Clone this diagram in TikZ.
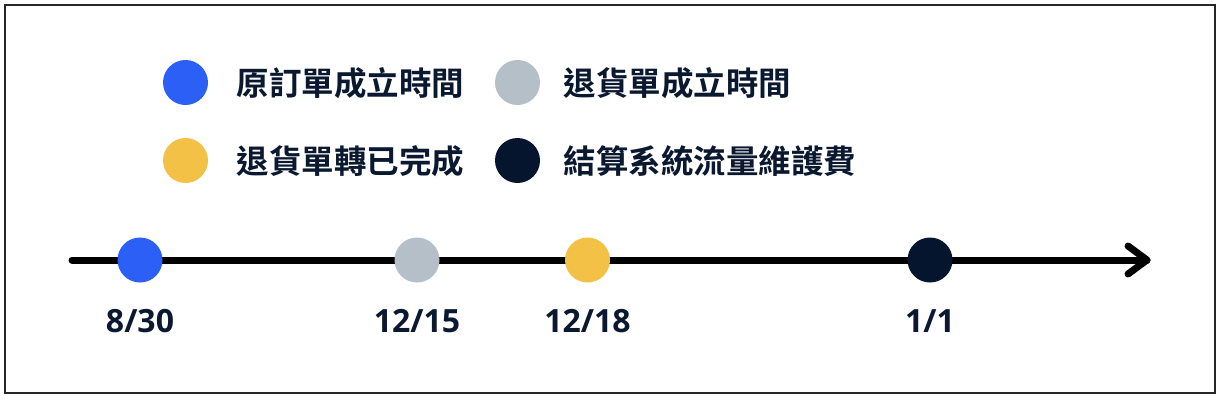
\documentclass[tikz,border=0pt]{standalone}
\usepackage{fontspec}
\newfontfamily\cjkfont{Noto Sans CJK TC}[BoldFont={* Bold}]
\newfontfamily\datefont{Open Sans}
\definecolor{cblue}{HTML}{2B5FF6}
\definecolor{cgrey}{HTML}{B5BFC8}
\definecolor{cyellow}{HTML}{F2C146}
\definecolor{cdark}{HTML}{04152D}
\definecolor{ctext}{HTML}{0A1830}
\begin{document}
\begin{tikzpicture}[x=1pt,y=-1pt,
  dot/.style={circle,minimum size=45pt,inner sep=0pt,draw=none},
  legtext/.style={anchor=west,inner sep=0pt,text=ctext,font=\cjkfont\bfseries\fontsize{32.5}{36}\selectfont},
  datetext/.style={anchor=base,inner sep=0pt,text=ctext,font=\datefont\bfseries\fontsize{32}{36}\selectfont},
  axis/.style={line width=7pt,black,line cap=round,line join=round}]
\useasboundingbox (0,0) rectangle (1224,402);
\fill[white] (0,0) rectangle (1224,402);
\draw[line width=2pt,black!85] (5,5) rectangle (1215,393);
% legend
\node[dot,fill=cblue] (lblue) at (185.5,82.5) {};
\node[legtext] (tblue) at (236.5,83) {原訂單成立時間};
\node[dot,fill=cgrey] (lgrey) at (517.5,82.5) {};
\node[legtext] (tgrey) at (563.5,83) {退貨單成立時間};
\node[dot,fill=cyellow] (lyellow) at (185.5,160.5) {};
\node[legtext] (tyellow) at (236.5,161) {退貨單轉已完成};
\node[dot,fill=cdark] (ldark) at (517.5,160.5) {};
\node[legtext] (tdark) at (563.5,161) {結算系統流量維護費};
% timeline
\coordinate (tstart) at (72,260);
\coordinate (tend) at (1147,260);
\draw[axis] (tstart) -- (tend);
\draw[axis] ([shift={(-19,-14)}]tend) -- (tend) -- ([shift={(-19,14)}]tend);
\node[dot,fill=cblue] (d1) at (140,260) {};
\node[dot,fill=cgrey] (d2) at (417,260) {};
\node[dot,fill=cyellow] (d3) at (587.5,260) {};
\node[dot,fill=cdark] (d4) at (930,260) {};
\node[datetext] (t1) at (140,332) {8/30};
\node[datetext] (t2) at (417,332) {12/15};
\node[datetext] (t3) at (587.5,332) {12/18};
\node[datetext] (t4) at (930,332) {1/1};
\end{tikzpicture}
\end{document}
